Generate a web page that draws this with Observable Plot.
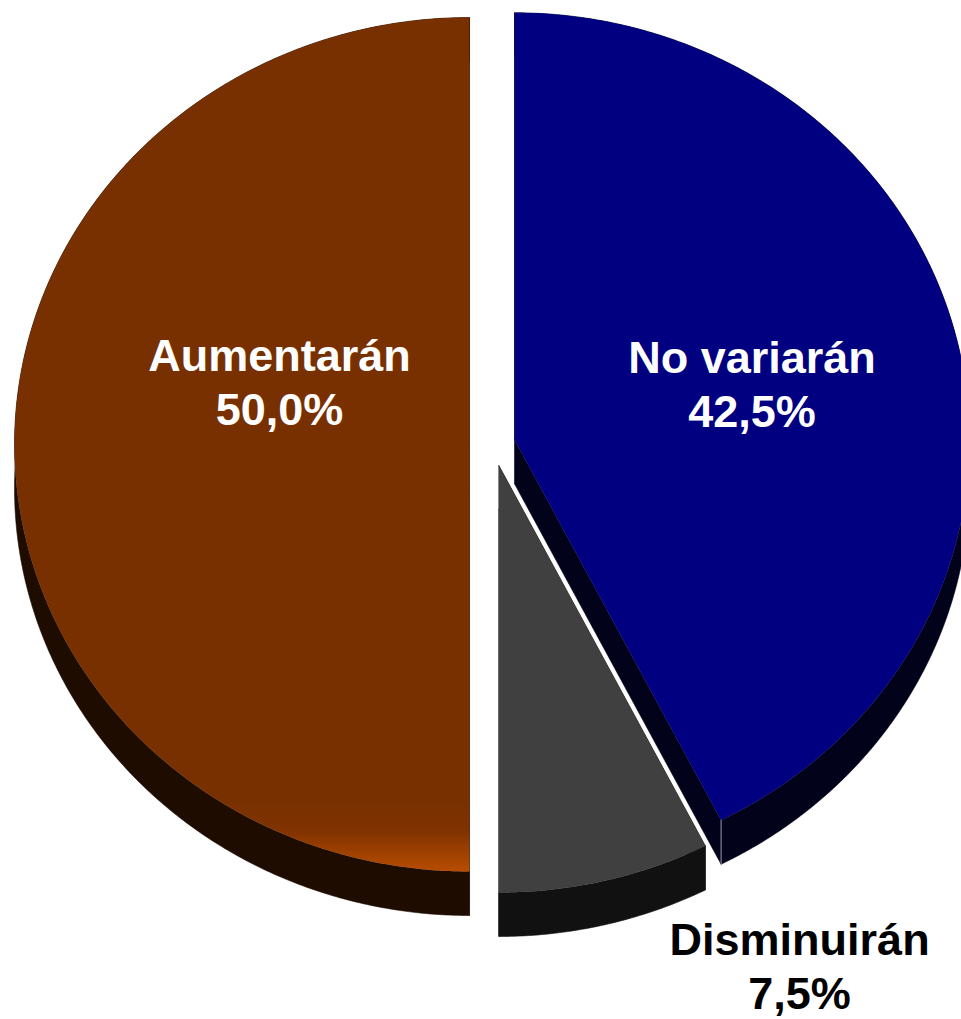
<!DOCTYPE html>
<html><head><meta charset="utf-8">
<script src="https://cdn.jsdelivr.net/npm/d3@7"></script>
<script src="https://cdn.jsdelivr.net/npm/@observablehq/plot@0.6"></script>
<style>html,body{margin:0;padding:0;background:#fff;overflow:hidden;} svg{overflow:hidden;display:block;}</style>
</head><body><div id="chart"></div>
<script>
// ---- data ----
const categories = ["No variarán", "Disminuirán", "Aumentarán"];
const values = [42.5, 7.5, 50.0];
const valueLabels = ["42,5%", "7,5%", "50,0%"];

// ---- styles ----
const topColors = ["#000080", "#404040", "url(#brownGrad)"];
const sideColors = ["#02021A", "#111111", "#1E0C00"];
const labelColors = ["#ffffff", "#000000", "#ffffff"];

// ---- layout ----
const W = 961, H = 1019;
const RX = 455, RY = 427, CX = 493, CY = 444;
const depth = 44 / RY;
const explode = [0.0475, 0.0506, 0.0527];
const labelR = [0.586, 1.392, 0.493];
const labelShift = [-0.7, -15.4, 17.5];

const rad = Math.PI / 180;
const total = d3.sum(values);
let acc = 0;
const slices = values.map((v, i) => {
  const a0 = acc / total * 360; acc += v; const a1 = acc / total * 360;
  const mid = (a0 + a1) / 2;
  return {i, a0, a1, mid, ox: explode[i] * Math.sin(mid * rad), oy: explode[i] * Math.cos(mid * rad)};
});
const pt = (s, a, r = 1, dz = 0) => ({x: s.ox + r * Math.sin(a * rad), y: s.oy + r * Math.cos(a * rad) - dz});
function arcPts(s, a0, a1, dz = 0) {
  const n = Math.max(2, Math.ceil((a1 - a0) / 0.5));
  return d3.range(n + 1).map(k => pt(s, a0 + (a1 - a0) * k / n, 1, dz));
}

const walls = [], tops = [];
slices.forEach(s => {
  const c = {x: s.ox, y: s.oy}, cd = {x: s.ox, y: s.oy - depth};
  for (const a of [s.a0, s.a1]) walls.push({fill: sideColors[s.i], pts: [c, pt(s, a), pt(s, a, 1, depth), cd]});
  walls.push({fill: sideColors[s.i], pts: [...arcPts(s, s.a0, s.a1), ...arcPts(s, s.a0, s.a1, depth).reverse()]});
  tops.push({fill: topColors[s.i], pts: [c, ...arcPts(s, s.a0, s.a1)]});
});

const labels = slices.map(s => {
  const a = s.mid + labelShift[s.i];
  return {x: labelR[s.i] * Math.sin(a * rad), y: labelR[s.i] * Math.cos(a * rad),
          text: categories[s.i] + "\n" + valueLabels[s.i], color: labelColors[s.i]};
});

const navy = slices[0];
const chart = Plot.plot({
  width: W, height: H,
  marginTop: 0, marginRight: 0, marginBottom: 0, marginLeft: 0,
  x: {domain: [-1, 1], range: [CX - RX, CX + RX], axis: null},
  y: {domain: [-1, 1], range: [CY + RY, CY - RY], axis: null},
  style: {background: "#fff", overflow: "hidden"},
  marks: [
    ...walls.map(w => Plot.line(w.pts, {x: "x", y: "y", fill: w.fill, stroke: w.fill, strokeWidth: 0.6, curve: "linear"})),
    ...tops.map(t => Plot.line(t.pts, {x: "x", y: "y", fill: t.fill, stroke: "none", curve: "linear"})),
    Plot.line([pt(navy, navy.a1), pt(navy, navy.a1, 1, depth)], {x: "x", y: "y", stroke: "#9a9ab0", strokeWidth: 1}),
    ...labels.map(l => Plot.text([l], {x: "x", y: "y", text: "text", fill: l.color,
      fontSize: 45, fontWeight: "bold", fontFamily: "'Liberation Sans', Arial, sans-serif",
      lineHeight: 1.2, textAnchor: "middle", lineAnchor: "middle"}))
  ]
});

// gradient for brown top face (lighter rim near the bottom)
const ys = chart.scale("y");
const brown = slices[2];
const yBottom = ys.apply(brown.oy - 1);
const defs = d3.select(chart).insert("defs", ":first-child");
const g = defs.append("linearGradient").attr("id", "brownGrad").attr("gradientUnits", "userSpaceOnUse")
  .attr("x1", 0).attr("x2", 0).attr("y1", yBottom - 75).attr("y2", yBottom);
g.append("stop").attr("offset", "0").attr("stop-color", "#783000");
g.append("stop").attr("offset", "0.45").attr("stop-color", "#803200");
g.append("stop").attr("offset", "1").attr("stop-color", "#B84C00");

document.getElementById("chart").appendChild(chart);
</script>
</body></html>
